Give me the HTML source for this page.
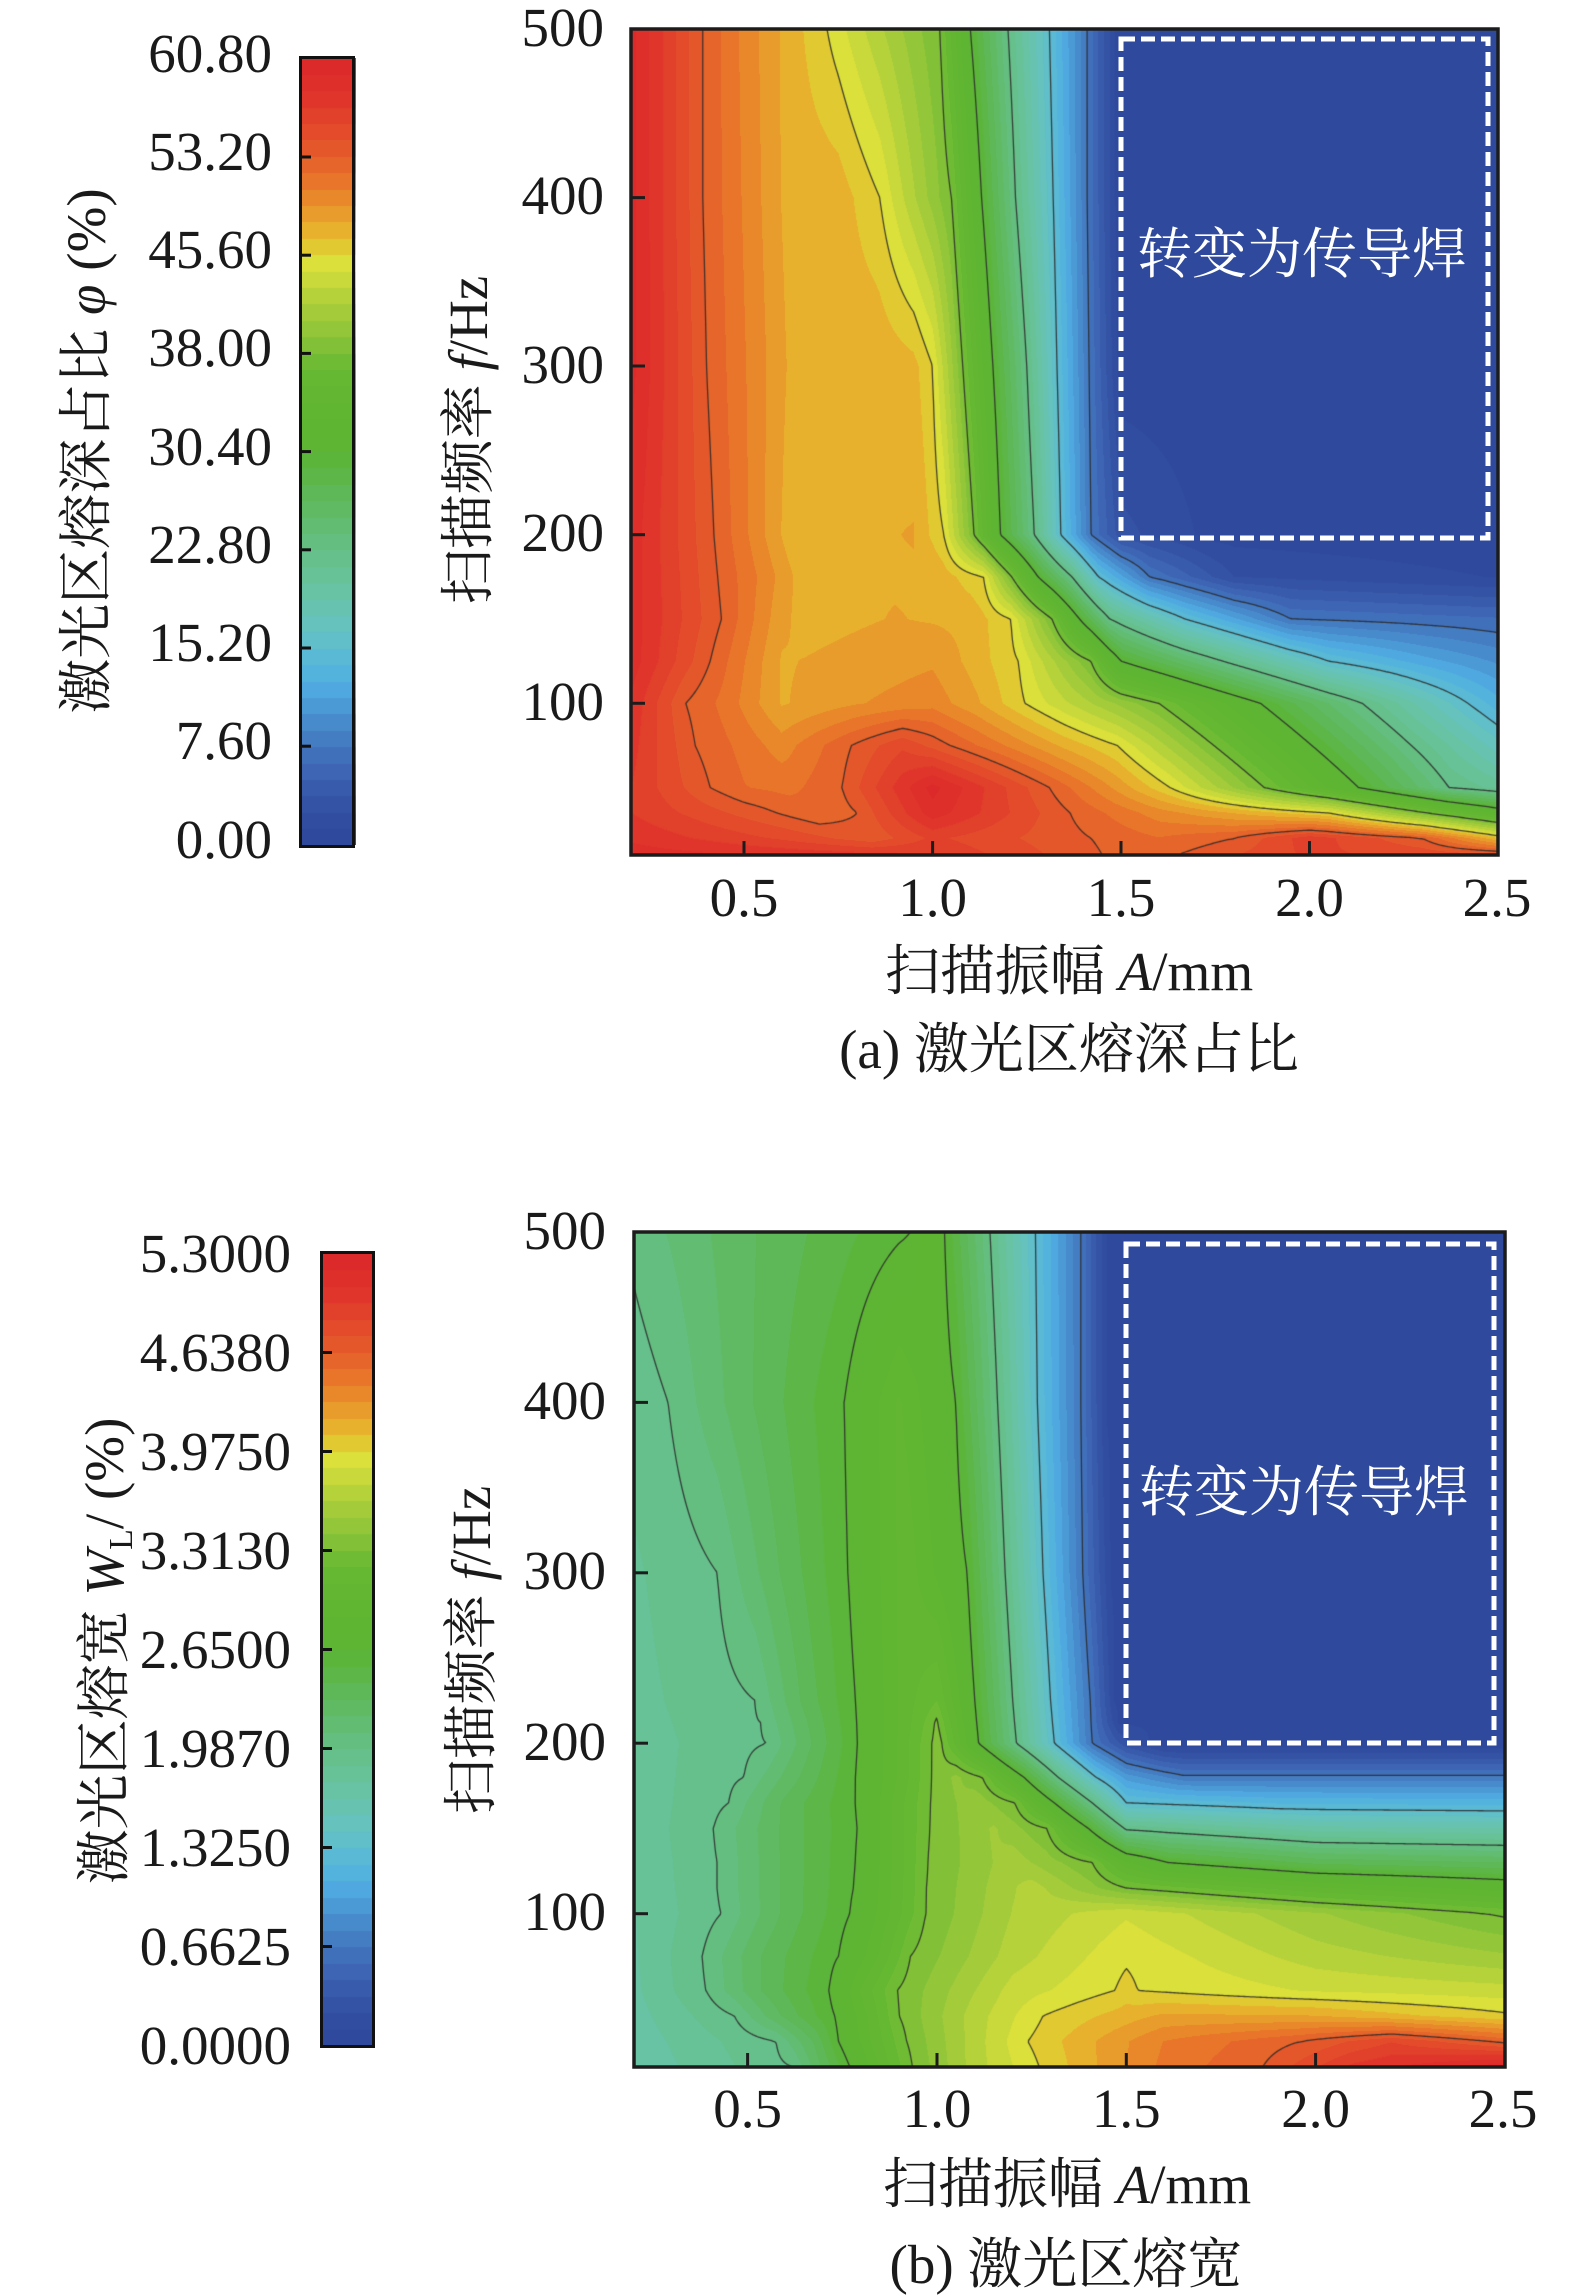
<!DOCTYPE html>
<html><head><meta charset="utf-8">
<style>
html,body{margin:0;padding:0;background:#ffffff;}
body{width:1575px;height:2296px;position:relative;overflow:hidden;}
canvas{position:absolute;display:block;}
svg{position:absolute;left:0;top:0;}
</style></head><body>
<canvas id="pa" width="867" height="826" style="left:631px;top:29px"></canvas>
<canvas id="pb" width="871" height="835" style="left:634px;top:1232px"></canvas>
<canvas id="ca" width="56" height="787" style="left:300px;top:58px"></canvas>
<canvas id="cb" width="55" height="793" style="left:320px;top:1253px"></canvas>
<svg width="1575" height="2296" xmlns="http://www.w3.org/2000/svg" font-family="'Liberation Serif','Noto Serif CJK SC',serif" fill="#1a1a1a">
<rect x="631" y="29" width="867" height="826" fill="none" stroke="#1c1c1c" stroke-width="3.5"/>
<rect x="634" y="1232" width="871" height="835" fill="none" stroke="#1c1c1c" stroke-width="3.5"/>
<g stroke="#1c1c1c" stroke-width="3">
<line x1="744" y1="855" x2="744" y2="841"/>
<line x1="932.6" y1="855" x2="932.6" y2="841"/>
<line x1="1121" y1="855" x2="1121" y2="841"/>
<line x1="1309.5" y1="855" x2="1309.5" y2="841"/>
<line x1="631" y1="197.6" x2="645" y2="197.6"/>
<line x1="631" y1="366" x2="645" y2="366"/>
<line x1="631" y1="534.7" x2="645" y2="534.7"/>
<line x1="631" y1="703.3" x2="645" y2="703.3"/>
<line x1="747.6" y1="2067" x2="747.6" y2="2053"/>
<line x1="937" y1="2067" x2="937" y2="2053"/>
<line x1="1126.3" y1="2067" x2="1126.3" y2="2053"/>
<line x1="1315.6" y1="2067" x2="1315.6" y2="2053"/>
<line x1="634" y1="1402.4" x2="648" y2="1402.4"/>
<line x1="634" y1="1572.8" x2="648" y2="1572.8"/>
<line x1="634" y1="1743.2" x2="648" y2="1743.2"/>
<line x1="634" y1="1913.7" x2="648" y2="1913.7"/>
</g>
<rect x="1121" y="39" width="367" height="499" fill="none" stroke="#ffffff" stroke-width="5" stroke-dasharray="14 6"/>
<rect x="1126" y="1244" width="368" height="499" fill="none" stroke="#ffffff" stroke-width="5" stroke-dasharray="14 6"/>
<text x="1302" y="273" font-size="55" fill="#ffffff" text-anchor="middle">转变为传导焊</text>
<text x="1304" y="1511" font-size="55" fill="#ffffff" text-anchor="middle">转变为传导焊</text>
<rect x="300.5" y="57.5" width="53" height="789" fill="none" stroke="#111" stroke-width="3"/>
<rect x="321.5" y="1252.5" width="52" height="794" fill="none" stroke="#111" stroke-width="3"/>
<g stroke="#111" stroke-width="3">
<line x1="301" y1="157" x2="311" y2="157"/>
<line x1="301" y1="255.2" x2="311" y2="255.2"/>
<line x1="301" y1="353.4" x2="311" y2="353.4"/>
<line x1="301" y1="451.6" x2="311" y2="451.6"/>
<line x1="301" y1="549.8" x2="311" y2="549.8"/>
<line x1="301" y1="648" x2="311" y2="648"/>
<line x1="301" y1="746.2" x2="311" y2="746.2"/>
<line x1="322" y1="1352.5" x2="332" y2="1352.5"/>
<line x1="322" y1="1451.5" x2="332" y2="1451.5"/>
<line x1="322" y1="1550.5" x2="332" y2="1550.5"/>
<line x1="322" y1="1649.5" x2="332" y2="1649.5"/>
<line x1="322" y1="1748.5" x2="332" y2="1748.5"/>
<line x1="322" y1="1847.5" x2="332" y2="1847.5"/>
<line x1="322" y1="1946.5" x2="332" y2="1946.5"/>
</g>
<g font-size="55" text-anchor="end">
<text x="272" y="72">60.80</text>
<text x="272" y="170">53.20</text>
<text x="272" y="268">45.60</text>
<text x="272" y="366">38.00</text>
<text x="272" y="465">30.40</text>
<text x="272" y="563">22.80</text>
<text x="272" y="661">15.20</text>
<text x="272" y="759">7.60</text>
<text x="272" y="858">0.00</text>
</g>
<g font-size="55" text-anchor="end">
<text x="291" y="1272">5.3000</text>
<text x="291" y="1371">4.6380</text>
<text x="291" y="1470">3.9750</text>
<text x="291" y="1569">3.3130</text>
<text x="291" y="1668">2.6500</text>
<text x="291" y="1767">1.9870</text>
<text x="291" y="1866">1.3250</text>
<text x="291" y="1965">0.6625</text>
<text x="291" y="2064">0.0000</text>
</g>
<g font-size="55" text-anchor="end">
<text x="604" y="46">500</text>
<text x="604" y="214">400</text>
<text x="604" y="383">300</text>
<text x="604" y="551">200</text>
<text x="604" y="720">100</text>
</g>
<g font-size="55" text-anchor="end">
<text x="606" y="1249">500</text>
<text x="606" y="1419">400</text>
<text x="606" y="1589">300</text>
<text x="606" y="1760">200</text>
<text x="606" y="1930">100</text>
</g>
<g font-size="55" text-anchor="middle">
<text x="744" y="916">0.5</text>
<text x="932.6" y="916">1.0</text>
<text x="1121" y="916">1.5</text>
<text x="1309.5" y="916">2.0</text>
<text x="1497" y="916">2.5</text>
</g>
<g font-size="55" text-anchor="middle">
<text x="747.6" y="2127">0.5</text>
<text x="937" y="2127">1.0</text>
<text x="1126.3" y="2127">1.5</text>
<text x="1315.6" y="2127">2.0</text>
<text x="1503" y="2127">2.5</text>
</g>
<text x="1069" y="990" font-size="55" text-anchor="middle">扫描振幅 <tspan font-style="italic">A</tspan>/mm</text>
<text x="1069" y="1068" font-size="55" text-anchor="middle">(a) 激光区熔深占比</text>
<text x="1067" y="2203" font-size="55" text-anchor="middle">扫描振幅 <tspan font-style="italic">A</tspan>/mm</text>
<text x="1066" y="2283" font-size="55" text-anchor="middle">(b) 激光区熔宽</text>
<text transform="translate(487,440) rotate(-90)" font-size="55" text-anchor="middle">扫描频率 <tspan font-style="italic">f</tspan>/Hz</text>
<text transform="translate(490,1650) rotate(-90)" font-size="55" text-anchor="middle">扫描频率 <tspan font-style="italic">f</tspan>/Hz</text>
<text transform="translate(105,451) rotate(-90)" font-size="55" text-anchor="middle">激光区熔深占比 <tspan font-style="italic">φ</tspan> (%)</text>
<text transform="translate(123,1651) rotate(-90)" font-size="55" text-anchor="middle">激光区熔宽 <tspan font-style="italic">W</tspan><tspan font-size="34" dy="9">L</tspan><tspan dy="-9">/ (%)</tspan></text>
</svg>
<script>
var PAL=["#2f4a9c","#314d9f","#3553a4","#395bab","#3d65b3","#4170bb","#457dc3","#488bcc","#4b9ad6","#4fa9e0","#54b3dc","#5ab9d4","#60bfc8","#65c2bc","#67c3b0","#68c3a4","#67c298","#66c08c","#64be80","#62bc72","#60ba64","#5eb857","#5db648","#5cb53b","#5db533","#5eb531","#60b531","#62b631","#65b832","#6fbc34","#82c137","#94c639","#a4cc3a","#b5d23a","#c9d83b","#dbe03a","#e1ca31","#e8b12d","#e89c2b","#e8882a","#e8752a","#e6652a","#e4572b","#e34b2b","#e1402b","#e0352b","#de2f2a","#dc2a2a"];
var NB=48;
var pal=PAL.map(function(c){return [parseInt(c.substr(1,2),16),parseInt(c.substr(3,2),16),parseInt(c.substr(5,2),16)];});

function rowEval(p,A){
  if(A<=p[0][0]) return p[0][1];
  for(var i=1;i<p.length;i++){
    if(A<=p[i][0]){var u=(A-p[i-1][0])/(p[i][0]-p[i-1][0]);return p[i-1][1]+(p[i][1]-p[i-1][1])*u;}
  }
  return p[p.length-1][1];
}

function render(id,rows,vmax,W,H){
  rows.sort(function(a,b){return a[0]-b[0];});
  var cv=document.getElementById(id),ctx=cv.getContext('2d');
  var img=ctx.createImageData(W,H),val=new Float32Array(W*H);
  var nr=rows.length,rv=new Float64Array(nr);
  for(var x=0;x<W;x++){
    var A=0.2+(x+0.5)*2.3/W;
    for(var r=0;r<nr;r++) rv[r]=rowEval(rows[r][1],A);
    for(var y=0;y<H;y++){
      var f=500-(y+0.5)*490/H,v;
      if(f<=rows[0][0]) v=rv[0];
      else if(f>=rows[nr-1][0]) v=rv[nr-1];
      else{var k=0;while(rows[k+1][0]<f)k++;var u=(f-rows[k][0])/(rows[k+1][0]-rows[k][0]);v=rv[k]+(rv[k+1]-rv[k])*u;}
      val[y*W+x]=v;
      var b=Math.floor(v/vmax*NB);if(b<0)b=0;if(b>NB-1)b=NB-1;
      var c=pal[b],o=(y*W+x)*4;
      img.data[o]=c[0];img.data[o+1]=c[1];img.data[o+2]=c[2];img.data[o+3]=255;
    }
  }
  ctx.putImageData(img,0,0);
  ctx.strokeStyle='rgba(40,40,40,0.85)';ctx.lineWidth=1.3;ctx.lineCap='round';
  ctx.beginPath();
  var s=2;
  for(var kk=1;kk<8;kk++){
    var L=kk*vmax/8;
    for(var yy=0;yy+s<H;yy+=s){
      for(var xx=0;xx+s<W;xx+=s){
        var a=val[yy*W+xx],bb=val[yy*W+xx+s],cc=val[(yy+s)*W+xx+s],d=val[(yy+s)*W+xx];
        var pts=[];
        if((a<L)!=(bb<L)) pts.push([xx+s*(L-a)/(bb-a),yy]);
        if((bb<L)!=(cc<L)) pts.push([xx+s,yy+s*(L-bb)/(cc-bb)]);
        if((cc<L)!=(d<L)) pts.push([xx+s-s*(L-cc)/(d-cc),yy+s]);
        if((d<L)!=(a<L)) pts.push([xx,yy+s-s*(L-d)/(a-d)]);
        if(pts.length>=2){ctx.moveTo(pts[0][0]+0.5,pts[0][1]+0.5);ctx.lineTo(pts[1][0]+0.5,pts[1][1]+0.5);}
        if(pts.length==4){ctx.moveTo(pts[2][0]+0.5,pts[2][1]+0.5);ctx.lineTo(pts[3][0]+0.5,pts[3][1]+0.5);}
      }
    }
  }
  ctx.stroke();
}

function colorbar(id,W,H){
  var ctx=document.getElementById(id).getContext('2d');
  for(var i=0;i<NB;i++){
    var y0=H-(i+1)*H/NB,y1=H-i*H/NB;
    ctx.fillStyle=PAL[i];
    ctx.fillRect(0,Math.floor(y0),W,Math.ceil(y1)-Math.floor(y0));
  }
}

var rowsA=[
[10,[[0.2,59],[1.0,57],[1.45,53.2],[1.55,52.5],[1.65,53.2],[2.0,56],[2.5,55]]],
[20,[[0.2,58],[0.6,55.5],[0.84,53.6],[1.0,56],[1.42,53.2],[1.6,52],[1.8,53.2],[2.0,56.5],[2.3,53.2],[2.5,47]]],
[35,[[0.2,57],[0.586,53.2],[0.7,52],[0.8,53.2],[1.0,59],[1.365,53.2],[1.6,50],[2.05,45.6],[2.31,38],[2.5,32.5]]],
[50,[[0.2,57],[0.41,53.2],[0.5,52],[0.62,51.5],[0.76,53.2],[1.0,60],[1.31,53.2],[1.45,50],[1.63,45.6],[1.88,38],[2.13,30.4],[2.37,22.8],[2.5,21]]],
[75,[[0.2,57.5],[0.37,53.2],[0.5,51.5],[0.6,50],[0.785,53.2],[0.92,55.5],[1.046,53.2],[1.2,50.5],[1.35,47.8],[1.49,45.6],[1.746,38],[2.006,30.4],[2.27,22.8],[2.5,17]]],
[100,[[0.2,58],[0.345,53.2],[0.45,51.5],[0.6,48],[0.8,49.3],[1.0,50.2],[1.12,48.3],[1.245,45.6],[1.6,38],[1.87,30.4],[2.14,22.8],[2.42,15.2],[2.5,13.2]]],
[125,[[0.2,59],[0.41,53.2],[0.6,48],[0.8,48.6],[1.0,49.2],[1.1,47.8],[1.228,45.6],[1.42,38],[1.5,30.4],[1.77,22.8],[2.05,15.2],[2.3,12],[2.5,9.9]]],
[150,[[0.2,59],[0.44,53.2],[0.6,48.5],[0.66,47.6],[0.9,48.2],[1.1,47.8],[1.208,45.6],[1.317,38],[1.39,30.4],[1.47,22.8],[1.67,15.2],[1.95,7.6],[2.5,6.5]]],
[175,[[0.2,59],[0.43,53.2],[0.55,50.3],[0.65,47.6],[0.85,48.0],[1.0,48.0],[1.135,45.6],[1.21,38],[1.28,30.4],[1.37,22.8],[1.44,15.2],[1.575,7.6],[1.8,2.5],[2.5,1.2]]],
[200,[[0.2,59],[0.42,53.2],[0.5,51],[0.62,47.5],[0.8,47.9],[0.95,48.2],[1.03,45.6],[1.11,38],[1.18,30.4],[1.27,22.8],[1.34,15.2],[1.42,7.6],[1.5,3],[1.75,0.8],[2.5,0.3]]],
[300,[[0.2,60],[0.40,53.2],[0.5,50.8],[0.64,47.5],[0.85,47.9],[0.95,47.3],[1.0,45.6],[1.08,38],[1.16,30.4],[1.25,22.8],[1.33,15.2],[1.415,7.6],[1.5,0.5],[2.5,0]]],
[400,[[0.2,60],[0.39,53.2],[0.5,50.5],[0.62,47.6],[0.75,47.6],[0.86,45.6],[1.05,38],[1.13,30.4],[1.22,22.8],[1.32,15.2],[1.41,7.6],[1.5,0],[2.5,0]]],
[500,[[0.2,60],[0.39,53.2],[0.5,50.3],[0.6,48],[0.72,45.6],[1.02,38],[1.10,30.4],[1.2,22.8],[1.31,15.2],[1.41,7.6],[1.5,0],[2.5,0]]]
];

var rowsB=[
[10,[[0.2,1.68],[0.62,1.9875],[0.7,2.35],[0.77,2.65],[0.85,3.0],[0.935,3.3125],[1.1,3.7],[1.27,3.975],[1.6,4.45],[1.86,4.6375],[2.1,5.0],[2.5,5.28]]],
[25,[[0.2,1.7],[0.575,1.9875],[0.68,2.35],[0.74,2.65],[0.83,3.0],[0.92,3.3125],[1.1,3.7],[1.24,3.975],[1.6,4.42],[1.96,4.6375],[2.2,4.85],[2.46,4.6375],[2.5,4.6]]],
[40,[[0.2,1.72],[0.465,1.9875],[0.6,2.35],[0.73,2.65],[0.82,3.0],[0.90,3.3125],[1.1,3.7],[1.28,3.975],[1.6,4.22],[2.0,4.2],[2.5,4.0]]],
[55,[[0.2,1.74],[0.39,1.9875],[0.55,2.35],[0.715,2.65],[0.8,3.0],[0.895,3.3125],[1.2,3.8],[1.47,3.975],[1.5,4.02],[1.53,3.975],[2.0,3.85],[2.5,3.8]]],
[75,[[0.2,1.75],[0.38,1.9875],[0.55,2.35],[0.74,2.65],[0.85,3.0],[0.93,3.3125],[1.2,3.7],[1.5,3.95],[2.0,3.7],[2.5,3.55]]],
[100,[[0.2,1.76],[0.43,1.9875],[0.6,2.35],[0.77,2.65],[0.88,3.0],[0.97,3.3125],[1.2,3.65],[1.5,3.85],[2.0,3.55],[2.45,3.3125],[2.5,3.29]]],
[115,[[0.2,1.77],[0.42,1.9875],[0.6,2.35],[0.78,2.65],[0.9,3.05],[0.972,3.3125],[1.25,3.7],[1.5,3.3125],[2.0,3.0],[2.5,2.81]]],
[130,[[0.2,1.78],[0.42,1.9875],[0.6,2.35],[0.785,2.65],[0.9,3.05],[0.975,3.3125],[1.2,3.6],[1.41,3.3125],[1.5,2.9],[1.61,2.65],[2.0,2.4],[2.5,2.32]]],
[150,[[0.2,1.79],[0.41,1.9875],[0.6,2.35],[0.79,2.65],[0.9,3.05],[0.98,3.3125],[1.15,3.55],[1.29,3.3125],[1.40,2.65],[1.5,1.95],[2.0,1.7],[2.5,1.66]]],
[165,[[0.2,1.8],[0.45,1.9875],[0.6,2.35],[0.785,2.65],[0.9,3.05],[0.983,3.3125],[1.1,3.5],[1.206,3.3125],[1.31,2.65],[1.41,1.9875],[1.5,1.325],[1.9,1.2],[2.5,1.17]]],
[180,[[0.2,1.81],[0.49,1.9875],[0.65,2.35],[0.785,2.65],[0.9,3.0],[0.985,3.3125],[1.05,3.45],[1.12,3.3125],[1.23,2.65],[1.32,1.9875],[1.42,1.325],[1.5,0.95],[1.65,0.7],[2.5,0.7]]],
[200,[[0.2,1.82],[0.55,1.9875],[0.68,2.35],[0.79,2.65],[0.9,3.0],[0.987,3.3125],[1.0,3.4],[1.013,3.3125],[1.11,2.65],[1.21,1.9875],[1.31,1.325],[1.41,0.6625],[1.5,0.25],[1.6,0.03],[2.5,0.02]]],
[212,[[0.2,1.83],[0.535,1.9875],[0.67,2.35],[0.788,2.65],[0.92,3.05],[0.99,3.28],[0.998,3.35],[1.006,3.28],[1.105,2.65],[1.205,1.9875],[1.305,1.325],[1.407,0.6625],[1.48,0.1],[2.5,0]]],
[225,[[0.2,1.84],[0.52,1.9875],[0.65,2.35],[0.785,2.65],[0.92,3.05],[1.0,3.2],[1.10,2.65],[1.20,1.9875],[1.30,1.325],[1.405,0.6625],[1.47,0.1],[2.5,0]]],
[300,[[0.2,1.86],[0.42,1.9875],[0.6,2.35],[0.765,2.65],[0.92,3.05],[1.08,2.65],[1.18,1.9875],[1.28,1.325],[1.385,0.6625],[1.46,0.1],[2.5,0]]],
[400,[[0.2,1.92],[0.29,1.9875],[0.5,2.3],[0.755,2.65],[0.9,3.0],[1.05,2.65],[1.16,1.9875],[1.265,1.325],[1.38,0.6625],[1.45,0.1],[2.5,0]]],
[500,[[0.2,2.02],[0.5,2.3],[0.93,2.65],[0.98,2.85],[1.02,2.65],[1.14,1.9875],[1.26,1.325],[1.38,0.6625],[1.45,0.1],[2.5,0]]]
];

render('pa',rowsA,60.8,867,826);
render('pb',rowsB,5.3,871,835);
colorbar('ca',56,787);
colorbar('cb',55,793);
</script>
</body></html>
